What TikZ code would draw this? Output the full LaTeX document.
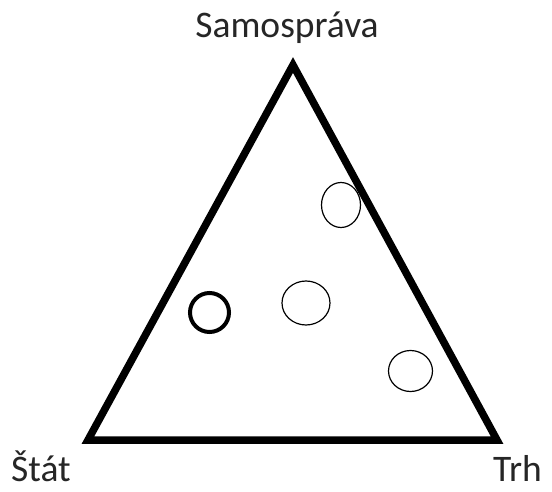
\documentclass[tikz,border=0pt]{standalone}
\usepackage{fontspec}
\setmainfont{Carlito}
\usepackage{tikz}
\usetikzlibrary{positioning}
\tikzset{
  tri/edge/.style={draw=black, line width=7.5pt, line join=miter},
  tri/lbl/.style={font=\fontsize{37.5}{40}\selectfont, text=black!85,
    inner sep=0pt},
  tri/ring/.style={draw=black, line width=1.2pt},
  tri/bold/.style={draw=black, line width=4pt}
}
\begin{document}
\begin{tikzpicture}[x=1pt, y=-1pt]
  \useasboundingbox[fill=white] (0,0) rectangle (552,492);
  % vertices
  \coordinate (apex)  at (293,65);
  \coordinate (left)  at (88,440);
  \coordinate (right) at (497,440);

  \node[tri/lbl, anchor=base] (samo) at (287,38) {Samospráva};
  \node[tri/lbl, anchor=base west] (stat) at (11,481) {Štát};
  \node[tri/lbl, anchor=base west] (trh) at (493,481) {Trh};

  \draw[tri/edge] (apex) -- (left) -- (right) -- cycle;

  % positions
  \draw[tri/ring] (341,205) ellipse [x radius=19.5pt, y radius=22.5pt];
  \draw[tri/ring] (306,303) ellipse [x radius=24pt, y radius=22pt];
  \draw[tri/ring] (410.5,371) ellipse [x radius=22pt, y radius=20.5pt];
  \draw[tri/bold] (209.5,312.5) circle [radius=19.5pt];
\end{tikzpicture}
\end{document}
